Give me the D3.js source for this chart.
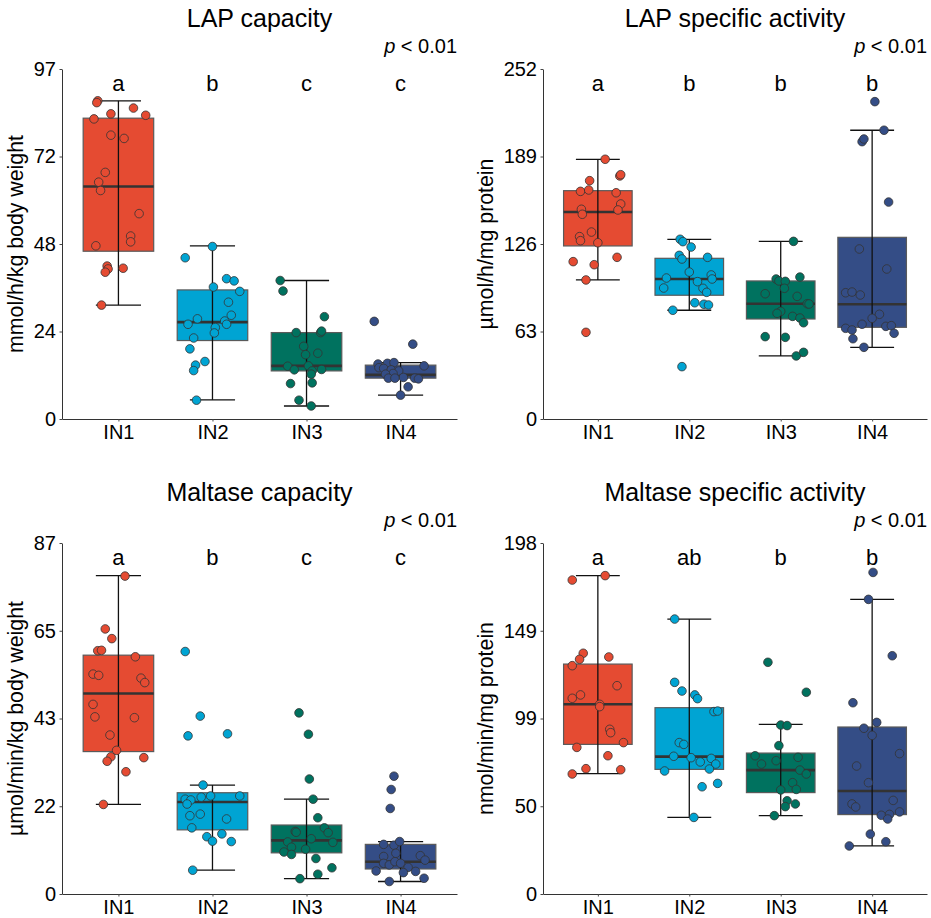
<!DOCTYPE html>
<html>
<head>
<meta charset="utf-8">
<script src="https://cdn.jsdelivr.net/npm/d3@7"></script>
<style>
body { margin: 0; background: #fff; }
svg { display: block; font-family: "Liberation Sans", Arial, sans-serif; }
</style>
</head>
<body>
<svg id="chart" width="931" height="918"></svg>
<script>
const groups = ["IN1", "IN2", "IN3", "IN4"];

// LAP capacity, mmol/h/kg body weight
const lapCapValues = [
    [88.0, 87.5, 86.0, 84.4, 84.0, 83.0, 78.5, 77.6, 68.2, 65.5, 63.2, 56.8, 50.6, 49.0, 47.9, 42.3, 41.5, 40.6, 41.7, 31.5],
    [47.7, 44.6, 38.8, 38.2, 36.5, 35.3, 32.3, 28.7, 27.7, 27.1, 26.2, 26.2, 25.3, 23.8, 22.4, 19.4, 15.9, 14.9, 13.4, 5.2],
    [38.3, 35.4, 28.3, 23.9, 23.9, 24.3, 20.1, 18.2, 17.8, 14.6, 13.6, 14.7, 13.3, 12.4, 13.7, 9.8, 10.0, 5.2, 3.6],
    [27.0, 20.7, 15.2, 15.4, 15.6, 14.7, 14.2, 14.0, 13.6, 13.3, 12.6, 12.4, 11.5, 11.3, 11.3, 11.3, 11.1, 8.9, 6.6]
];
const lapCapJitter = [
    [-0.22, -0.23, 0.16, -0.08, 0.29, -0.26, -0.08, 0.06, -0.14, -0.21, -0.19, 0.22, 0.13, 0.13, -0.24, -0.12, -0.11, -0.14, 0.05, -0.18],
    [0.0, -0.29, 0.15, 0.23, 0.01, 0.29, 0.17, 0.2, -0.16, 0.13, 0.15, -0.26, 0.03, 0.02, -0.2, -0.24, -0.08, -0.18, -0.2, -0.17],
    [-0.28, -0.25, 0.19, -0.11, 0.15, 0.16, -0.03, 0.12, -0.01, -0.2, -0.13, 0.02, 0.06, 0.05, 0.16, -0.17, 0.06, -0.08, 0.05],
    [-0.28, 0.13, -0.24, -0.14, -0.07, 0.25, -0.23, -0.18, -0.1, -0.02, -0.08, -0.16, 0.03, -0.13, -0.06, 0.15, 0.19, 0.08, 0.0]
];
// [lower whisker, q1, median, q3, upper whisker]
const lapCapBoxes = [[31.5, 46.4, 64.3, 83.2, 88.0], [5.3, 21.7, 26.8, 35.7, 47.9], [3.6, 13.3, 14.7, 23.9, 38.3], [6.6, 11.3, 12.2, 14.9, 15.6]];
const lapCapLetters = ["a", "b", "c", "c"];
const lapCapTicks = ["0", "24", "48", "72", "97"];
const lapCapMax = 96.8;

// LAP specific activity, umol/h/mg protein
const lapSpecValues = [
    [187.0, 175.0, 175.9, 171.6, 163.9, 164.9, 162.9, 154.8, 151.0, 147.4, 150.5, 134.6, 131.3, 128.4, 126.9, 113.3, 116.4, 111.1, 100.1, 62.4],
    [129.4, 127.7, 123.8, 117.8, 115.2, 116.4, 105.8, 101.5, 103.7, 100.8, 98.9, 94.3, 94.1, 91.2, 83.7, 82.6, 82.1, 78.3, 37.7],
    [127.9, 100.8, 99.4, 99.1, 102.2, 94.1, 90.2, 88.3, 83.0, 82.8, 77.5, 76.1, 73.9, 72.7, 69.3, 59.3, 58.8, 45.4, 48.0],
    [228.5, 207.9, 199.7, 201.6, 156.2, 122.4, 108.0, 90.9, 91.4, 89.3, 75.4, 72.5, 68.2, 65.3, 64.1, 66.7, 67.2, 61.7, 57.8, 51.6]
];
const lapSpecJitter = [
    [0.08, 0.24, 0.25, -0.09, -0.19, -0.1, 0.2, 0.25, -0.18, -0.17, 0.22, -0.07, -0.2, -0.19, 0.0, -0.27, 0.21, -0.04, -0.13, -0.13],
    [-0.1, -0.07, 0.02, -0.11, -0.08, 0.2, 0.0, -0.25, 0.24, 0.25, 0.09, -0.28, 0.15, 0.19, 0.06, 0.16, 0.21, -0.18, -0.08],
    [0.14, -0.05, -0.02, 0.05, 0.21, 0.04, -0.17, 0.18, 0.29, 0.31, 0.0, -0.04, 0.13, 0.21, 0.25, -0.17, 0.05, 0.17, 0.25],
    [0.03, 0.13, -0.11, -0.09, 0.18, -0.14, 0.16, -0.29, -0.22, -0.13, 0.08, 0.0, -0.11, -0.29, -0.22, 0.15, 0.21, 0.24, -0.21, -0.09]
];
const lapSpecBoxes = [[100.1, 124.6, 149.0, 164.4, 187.0], [78.3, 89.1, 100.8, 115.7, 129.4], [45.4, 72.0, 83.0, 99.4, 127.9], [51.6, 66.0, 82.6, 130.8, 207.9]];
const lapSpecLetters = ["a", "b", "b", "b"];
const lapSpecTicks = ["0", "63", "126", "189", "252"];
const lapSpecMax = 252;

// Maltase capacity, umol/min/kg body weight
const malCapValues = [
    [78.8, 65.7, 63.3, 60.3, 60.4, 58.8, 54.5, 54.2, 53.5, 52.4, 47.0, 43.9, 43.7, 39.4, 35.6, 34.0, 32.9, 33.8, 30.3, 22.2],
    [60.1, 44.1, 39.2, 39.7, 27.0, 23.5, 23.3, 22.3, 24.0, 24.3, 24.3, 19.4, 19.8, 18.6, 16.4, 14.2, 13.1, 14.9, 13.0, 5.9],
    [44.9, 39.6, 28.5, 23.5, 18.9, 15.5, 15.3, 16.4, 15.2, 13.7, 12.9, 12.8, 11.6, 10.4, 9.8, 11.1, 8.8, 6.5, 4.9, 3.8],
    [29.2, 25.9, 21.2, 12.3, 12.1, 13.0, 9.3, 9.5, 8.4, 7.6, 7.2, 8.0, 7.6, 6.6, 5.3, 5.6, 5.7, 3.9, 3.1, 10.1]
];
const malCapJitter = [
    [0.07, -0.14, -0.07, -0.22, -0.18, 0.18, -0.27, -0.21, 0.24, 0.28, -0.27, -0.25, 0.17, -0.09, -0.02, -0.08, -0.12, 0.27, 0.08, -0.16],
    [-0.29, -0.13, -0.26, 0.16, -0.1, -0.29, -0.23, -0.27, -0.12, -0.02, 0.29, -0.24, -0.13, 0.15, -0.22, -0.06, 0.0, 0.1, 0.2, -0.21],
    [-0.08, 0.02, 0.03, 0.07, 0.12, -0.12, -0.11, 0.19, 0.23, 0.05, -0.2, 0.28, -0.16, -0.24, -0.16, -0.01, 0.1, 0.27, 0.12, -0.07],
    [-0.07, -0.1, -0.11, -0.18, -0.07, -0.01, -0.18, 0.21, 0.26, -0.18, -0.12, -0.06, 0.0, 0.08, 0.03, 0.16, -0.26, 0.25, -0.12, -0.05]
];
const malCapBoxes = [[22.2, 35.3, 49.7, 59.2, 78.9], [5.9, 15.9, 22.8, 25.1, 27.0], [3.8, 10.2, 13.3, 17.1, 23.5], [3.1, 6.2, 8.0, 12.3, 13.0]];
const malCapLetters = ["a", "b", "c", "c"];
const malCapTicks = ["0", "22", "43", "65", "87"];
const malCapMax = 87;

// Maltase specific activity, nmol/min/mg protein
const malSpecValues = [
    [179.6, 177.1, 135.8, 133.7, 132.4, 128.8, 117.5, 112.3, 110.4, 107.0, 105.7, 92.9, 91.0, 85.4, 82.7, 78.0, 70.7, 70.1, 67.7],
    [155.1, 119.4, 114.5, 112.3, 110.2, 102.9, 103.2, 85.4, 84.4, 77.7, 76.9, 74.5, 76.5, 73.3, 70.5, 69.4, 60.5, 62.4, 43.2],
    [130.7, 113.8, 95.3, 95.0, 83.7, 78.0, 77.1, 73.3, 75.2, 69.9, 67.7, 62.8, 58.7, 59.0, 52.6, 50.8, 49.3, 44.2],
    [181.4, 166.2, 134.4, 107.9, 96.8, 93.5, 89.5, 79.2, 72.2, 62.8, 52.8, 50.8, 49.1, 46.3, 44.4, 44.9, 42.3, 33.8, 29.5, 27.1]
];
const malSpecJitter = [
    [0.08, -0.28, -0.16, 0.12, -0.2, -0.28, 0.21, -0.19, -0.28, 0.02, 0.02, 0.13, 0.14, 0.28, -0.23, 0.11, -0.13, 0.25, -0.28],
    [-0.16, -0.16, -0.08, 0.06, 0.09, 0.27, 0.31, -0.11, -0.06, -0.17, 0.02, 0.12, 0.24, 0.29, 0.22, -0.27, 0.14, 0.31, 0.05],
    [-0.14, 0.28, 0.0, 0.07, -0.02, -0.28, 0.19, -0.21, -0.05, 0.21, 0.28, 0.13, 0.0, 0.17, 0.07, 0.16, 0.05, -0.07],
    [0.01, -0.04, 0.22, -0.21, 0.05, -0.09, 0.0, 0.3, -0.17, -0.04, 0.23, -0.22, -0.18, 0.3, 0.1, 0.19, 0.17, -0.02, 0.15, -0.25]
];
const malSpecBoxes = [[67.9, 84.4, 107.0, 129.7, 179.6], [43.2, 70.3, 77.5, 105.1, 155.1], [44.2, 57.2, 69.9, 79.5, 95.7], [27.1, 44.8, 58.1, 94.2, 166.2]];
const malSpecLetters = ["a", "ab", "b", "b"];
const malSpecTicks = ["0", "50", "99", "149", "198"];
const malSpecMax = 198;

const fills = ["#e54b32", "#00a4d3", "#00725f", "#344d86"];

const panels = [
    {title: "LAP capacity", ylab: "mmol/h/kg body weight", values: lapCapValues, jitter: lapCapJitter,
     boxes: lapCapBoxes, letters: lapCapLetters, ticks: lapCapTicks, max: lapCapMax, left: 62, right: 457, top: 69, bottom: 419},
    {title: "LAP specific activity", ylab: "\u00b5mol/h/mg protein", values: lapSpecValues, jitter: lapSpecJitter,
     boxes: lapSpecBoxes, letters: lapSpecLetters, ticks: lapSpecTicks, max: lapSpecMax, left: 543, right: 927, top: 69, bottom: 419},
    {title: "Maltase capacity", ylab: "\u00b5mol/min/kg body weight", values: malCapValues, jitter: malCapJitter,
     boxes: malCapBoxes, letters: malCapLetters, ticks: malCapTicks, max: malCapMax, left: 62, right: 457, top: 543, bottom: 894},
    {title: "Maltase specific activity", ylab: "nmol/min/mg protein", values: malSpecValues, jitter: malSpecJitter,
     boxes: malSpecBoxes, letters: malSpecLetters, ticks: malSpecTicks, max: malSpecMax, left: 543, right: 927, top: 543, bottom: 894}
];

const svg = d3.select("#chart");

panels.forEach(p => {
    const g = svg.append("g");
    const x = d3.scalePoint().domain(groups).range([p.left, p.right]).padding(0.6);
    const y = d3.scaleLinear().domain([0, p.max]).range([p.bottom, p.top]);
    const step = x.step();
    const boxW = step * 0.75, capW = step * 0.48;
    const tickVals = p.ticks.map((t, i) => p.max * i / (p.ticks.length - 1));

    // axes
    const yAxis = g.append("g")
        .attr("transform", "translate(" + p.left + ",0)")
        .call(d3.axisLeft(y).tickValues(tickVals).tickFormat((d, i) => p.ticks[i]).tickSize(2.5).tickSizeOuter(0).tickPadding(3.5));
    const xAxis = g.append("g")
        .attr("transform", "translate(0," + p.bottom + ")")
        .call(d3.axisBottom(x).tickSize(2.5).tickSizeOuter(0).tickPadding(3.2));
    [yAxis, xAxis].forEach(a => {
        a.select(".domain").attr("stroke", "#333").attr("stroke-width", 1);
        a.selectAll(".tick line").attr("stroke", "#444").attr("stroke-width", 1);
        a.selectAll(".tick text").attr("fill", "#000").attr("font-size", 20).attr("font-family", "Liberation Sans, Arial, sans-serif");
    });

    let maxW = 0;
    yAxis.selectAll(".tick text").each(function() { maxW = Math.max(maxW, this.getComputedTextLength()); });

    // y axis label
    g.append("text")
        .attr("transform", "translate(" + (p.left - 6 - maxW - 11) + "," + (p.top + p.bottom) / 2 + ") rotate(-90)")
        .attr("text-anchor", "middle")
        .attr("font-size", 21.3)
        .text(p.ylab);

    // title and p value
    g.append("text")
        .attr("x", (p.left + p.right) / 2)
        .attr("y", p.top - 42)
        .attr("text-anchor", "middle")
        .attr("font-size", 25)
        .text(p.title);
    const pv = g.append("text")
        .attr("x", p.right)
        .attr("y", p.top - 16)
        .attr("text-anchor", "end")
        .attr("font-size", 20);
    pv.append("tspan").attr("font-style", "italic").text("p");
    pv.append("tspan").text(" < 0.01");

    groups.forEach((grp, i) => {
        const cx = x(grp);
        const b = p.boxes[i];
        // box + median
        g.append("rect")
            .attr("x", cx - boxW / 2)
            .attr("y", y(b[3]))
            .attr("width", boxW)
            .attr("height", y(b[1]) - y(b[3]))
            .attr("fill", fills[i])
            .attr("stroke", "#5a5a5a")
            .attr("stroke-width", 1.2);
        g.append("line")
            .attr("x1", cx - boxW / 2).attr("x2", cx + boxW / 2)
            .attr("y1", y(b[2])).attr("y2", y(b[2]))
            .attr("stroke", "#333").attr("stroke-width", 2.6);
        // whiskers
        g.append("line")
            .attr("x1", cx).attr("x2", cx)
            .attr("y1", y(b[0])).attr("y2", y(b[4]))
            .attr("stroke", "#111").attr("stroke-width", 1.3);
        [b[0], b[4]].forEach(v => {
            g.append("line")
                .attr("x1", cx - capW / 2).attr("x2", cx + capW / 2)
                .attr("y1", y(v)).attr("y2", y(v))
                .attr("stroke", "#111").attr("stroke-width", 1.3);
        });
        // points
        g.selectAll(null)
            .data(p.values[i].map((v, k) => ({v: v, j: p.jitter[i][k]})))
            .enter().append("circle")
            .attr("cx", d => cx + d.j * step)
            .attr("cy", d => y(d.v))
            .attr("r", 4.3)
            .attr("fill", fills[i])
            .attr("stroke", "#333")
            .attr("stroke-width", 0.8);
        // significance letter
        g.append("text")
            .attr("x", cx)
            .attr("y", p.top + 22)
            .attr("text-anchor", "middle")
            .attr("font-size", 22)
            .text(p.letters[i]);
    });
});
</script>
</body>
</html>
